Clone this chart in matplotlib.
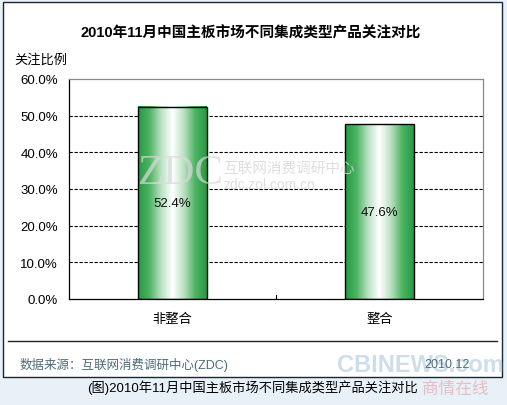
import numpy as np
import matplotlib.pyplot as plt
from matplotlib.colors import LinearSegmentedColormap
from matplotlib.patches import Rectangle
from matplotlib.lines import Line2D

plt.rcParams['font.family'] = ['Liberation Sans', 'Noto Sans CJK SC', 'DejaVu Sans']

title = "2010年11月中国主板市场不同集成类型产品关注对比"
categories = ["非整合", "整合"]
values = [52.4, 47.6]
yticks = [0, 10, 20, 30, 40, 50, 60]

W, H = 507, 406
fig = plt.figure(figsize=(W / 100, H / 100), dpi=100)
fig.patch.set_facecolor("#e9f1f8")

# outer white panel
fig.patches.append(Rectangle((3 / W, 1 - 378 / H), 499 / W, 375 / H, transform=fig.transFigure,
                             facecolor="white", edgecolor="#1c2630", linewidth=1.0, zorder=-5))
fig.lines.append(Line2D([8 / W, 497 / W], [1 - 342 / H, 1 - 342 / H], transform=fig.transFigure,
                        color="#222222", linewidth=1.0))

ax = fig.add_axes([69 / W, 1 - 300 / H, 414 / W, 220 / H])
ax.set_zorder(3)

x = np.arange(len(categories))
bars = ax.bar(x, values, width=0.333, facecolor="none", edgecolor="black", linewidth=1.0, zorder=3)

cmap = LinearSegmentedColormap.from_list("gr", ["#ffffff", "#b9e0c0", "#4db363", "#259a43"])
grad = np.abs(np.linspace(-1, 1, 256)).reshape(1, -1)
for b, v in zip(bars, values):
    x0, y0 = b.get_x(), b.get_y()
    ax.imshow(grad, cmap=cmap, aspect="auto", extent=(x0, x0 + b.get_width(), y0, y0 + b.get_height()),
              zorder=2, interpolation="bicubic")
    ax.text(b.get_x() + b.get_width() / 2, v / 2, f"{v:.1f}%", ha="center", va="center",
            fontsize=9.5, color="#111111", zorder=4)

ax.set_xlim(-0.5, 1.5)
ax.set_ylim(0, 60)
ax.set_xticks(x)
ax.set_xticklabels(categories, fontsize=9.5)
ax.set_yticks(yticks)
ax.set_yticklabels([f"{t:.1f}%" for t in yticks], fontsize=9.5)
ax.tick_params(axis="both", length=0, pad=8)
ax.tick_params(axis="x", pad=10)
for t in yticks[1:-1]:
    ax.axhline(t, color="black", linestyle=(0, (3, 1.5)), linewidth=0.8, zorder=1)
ax.plot([0.5, 0.5], [0, 1.2], color="black", linewidth=0.8, zorder=1)
ax.spines["left"].set_color("black")
ax.spines["bottom"].set_color("black")
ax.spines["top"].set_color("#8a8a8a")
ax.spines["right"].set_color("#8a8a8a")
for s in ax.spines.values():
    s.set_linewidth(0.9)

# watermark
ax.text(0.167, 0.573, "ZDC", transform=ax.transAxes, fontsize=31, family="Liberation Serif",
        color="#d9d9d9", alpha=0.7, ha="left", va="center", zorder=5)
ax.text(0.372, 0.598, "互联网消费调研中心", transform=ax.transAxes, fontsize=10.5,
        color="#d6d6d6", alpha=0.8, ha="left", va="center", zorder=5)
ax.text(0.372, 0.523, "zdc.zol.com.cn", transform=ax.transAxes, fontsize=10,
        color="#d6d6d6", alpha=0.8, ha="left", va="center", zorder=5)

fig.text(251 / W, 1 - 33 / H, title, ha="center", va="center", fontsize=10.5, fontweight="bold")
fig.text(14 / W, 1 - 60 / H, "关注比例", ha="left", va="center", fontsize=9.5)

fig.text(20 / W, 1 - 365 / H, "数据来源：互联网消费调研中心(ZDC)", ha="left", va="center",
         fontsize=9, color="#4d6b7a")
fig.text(420 / W, 1 - 366 / H, "CBINEWS.com", ha="center", va="center", fontsize=17,
         fontweight="bold", color="#9fbcd6", alpha=0.5)
fig.text(470 / W, 1 - 365 / H, "2010.12", ha="right", va="center", fontsize=9, color="#4d6b7a")
fig.text(252 / W, 1 - 388 / H, "(图)" + title, ha="center", va="center", fontsize=9.5)
fig.text(455 / W, 1 - 390 / H, "商情在线", ha="center", va="center", fontsize=12,
         color="#e08080", alpha=0.45)

fig.savefig("out.png", dpi=100, facecolor=fig.get_facecolor())
